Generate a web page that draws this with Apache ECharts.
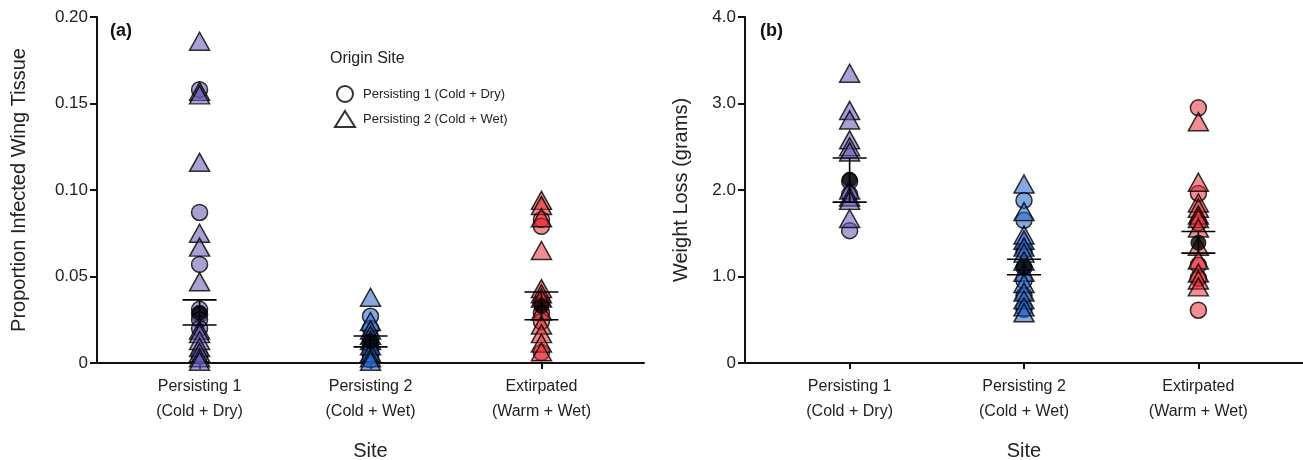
<!DOCTYPE html>
<html>
<head>
<meta charset="utf-8">
<script src="https://cdn.jsdelivr.net/npm/echarts@6/dist/echarts.min.js"></script>
<style>html,body{margin:0;padding:0;background:#fff}#c{width:1303px;height:460px}</style>
</head>
<body>
<div id="c"></div>
<script>
// ---------- data ----------
const categories = ['Persisting 1\n(Cold + Dry)', 'Persisting 2\n(Cold + Wet)', 'Extirpated\n(Warm + Wet)'];
const originNames = ['Persisting 1 (Cold + Dry)', 'Persisting 2 (Cold + Wet)'];
const yTicksA = ['0', '0.05', '0.10', '0.15', '0.20'];
const yTicksB = ['0', '1.0', '2.0', '3.0', '4.0'];

// Panel (a): proportion infected wing tissue
const infP1Circles = [0.158, 0.087, 0.057, 0.031, 0.028, 0.025, 0.020, 0.004];
const infP1Triangles = [0.186, 0.157, 0.155, 0.116, 0.075, 0.067, 0.047, 0.019, 0.017, 0.013, 0.009, 0.006, 0.003, 0.001];
const infP2Circles = [0.027, 0.020, 0.014, 0.011, 0.008, 0.004, 0.002];
const infP2Triangles = [0.038, 0.024, 0.019, 0.016, 0.013, 0.010, 0.006, 0.003, 0.001];
const infExCircles = [0.083, 0.079, 0.035, 0.029, 0.024, 0.006];
const infExTriangles = [0.094, 0.091, 0.084, 0.065, 0.043, 0.040, 0.0375, 0.030, 0.022, 0.017, 0.0115, 0.0065];
const infMeans = [0.029, 0.0125, 0.033];
const infLower = [0.022, 0.0093, 0.025];
const infUpper = [0.0365, 0.0156, 0.041];

// Panel (b): weight loss (grams)
const wlP1Circles = [2.10, 1.95, 1.53];
const wlP1Triangles = [3.35, 2.92, 2.81, 2.58, 2.50, 2.44, 2.00, 1.92, 1.88, 1.67];
const wlP2Circles = [1.88, 1.65, 1.30, 1.10, 0.95, 0.78, 0.62];
const wlP2Triangles = [2.07, 1.75, 1.48, 1.42, 1.34, 1.27, 1.18, 1.05, 0.92, 0.82, 0.73, 0.65, 0.58];
const wlExCircles = [2.95, 1.96, 1.62, 1.13, 0.98, 0.61];
const wlExTriangles = [2.79, 2.09, 1.85, 1.79, 1.71, 1.67, 1.56, 1.35, 1.19, 1.04, 0.96, 0.88];
const wlMeans = [2.12, 1.11, 1.39];
const wlLower = [1.86, 1.02, 1.27];
const wlUpper = [2.37, 1.20, 1.52];

// ---------- styling ----------
const FONT = '"Liberation Sans", Arial, sans-serif';
const siteColors = ['rgba(98,88,178,0.7)', 'rgba(40,100,200,0.7)', 'rgba(228,38,48,0.65)'];

function pts(catIdx, arr) { return arr.map(v => [catIdx + 1, v]); }

function pointSeries(axisIdx, catIdx, arr, shape) {
  return {
    type: 'scatter', xAxisIndex: axisIdx, yAxisIndex: axisIdx,
    name: 'pts' + axisIdx + catIdx + shape,
    symbol: shape,
    symbolSize: shape === 'circle' ? 16 : [20, 18],
    data: pts(catIdx, arr),
    itemStyle: { color: siteColors[catIdx], borderColor: '#000', borderWidth: 1.5 },
    z: 2, silent: true, animation: false
  };
}

function errSeries(axisIdx, lower, upper) {
  return {
    type: 'custom', xAxisIndex: axisIdx, yAxisIndex: axisIdx, z: 4, silent: true, animation: false,
    data: lower.map((lo, i) => [i + 1, lo, upper[i]]),
    renderItem: function (params, api) {
      const x = api.value(0);
      const pLo = api.coord([x, api.value(1)]);
      const pHi = api.coord([x, api.value(2)]);
      const hw = 17;
      const st = { stroke: '#000', lineWidth: 1.6 };
      return { type: 'group', children: [
        { type: 'line', shape: { x1: pLo[0], y1: pLo[1], x2: pHi[0], y2: pHi[1] }, style: st },
        { type: 'line', shape: { x1: pLo[0] - hw, y1: pLo[1], x2: pLo[0] + hw, y2: pLo[1] }, style: st },
        { type: 'line', shape: { x1: pHi[0] - hw, y1: pHi[1], x2: pHi[0] + hw, y2: pHi[1] }, style: st }
      ]};
    }
  };
}

function meanSeries(axisIdx, means) {
  return {
    type: 'scatter', xAxisIndex: axisIdx, yAxisIndex: axisIdx, z: 5, silent: true, animation: false,
    symbol: 'circle', symbolSize: 15,
    data: means.map((m, i) => [i + 1, m]),
    itemStyle: { color: '#000', borderColor: '#000', borderWidth: 1 }
  };
}

function xAxis(gridIdx) {
  return {
    type: 'value', gridIndex: gridIdx, min: 0.4, max: 3.6,
    name: 'Site', nameLocation: 'middle', nameGap: 78,
    nameTextStyle: { fontFamily: FONT, fontSize: 20, color: '#222' },
    splitLine: { show: false },
    axisLine: { show: true, lineStyle: { color: '#111', width: 2 } },
    axisTick: { show: true, customValues: [1, 2, 3], length: 6, lineStyle: { color: '#111', width: 2 } },
    axisLabel: {
      show: true, customValues: [1, 2, 3], margin: 11,
      formatter: v => categories[Math.round(v) - 1],
      fontFamily: FONT, fontSize: 16, color: '#222', lineHeight: 25
    }
  };
}

function yAxis(gridIdx, max, interval, labels, title, gap) {
  return {
    type: 'value', gridIndex: gridIdx, min: 0, max: max, interval: interval,
    name: title, nameLocation: 'middle', nameGap: gap,
    nameTextStyle: { fontFamily: FONT, fontSize: 20, color: '#222' },
    splitLine: { show: false },
    axisLine: { show: true, lineStyle: { color: '#111', width: 2 } },
    axisTick: { show: true, length: 7, lineStyle: { color: '#111', width: 2 } },
    axisLabel: {
      margin: 9, fontFamily: FONT, fontSize: 17, color: '#222',
      formatter: (v) => labels[Math.round(v / interval)]
    }
  };
}

const series = [
  pointSeries(0, 0, infP1Circles, 'circle'),
  pointSeries(0, 0, infP1Triangles, 'triangle'),
  pointSeries(0, 1, infP2Circles, 'circle'),
  pointSeries(0, 1, infP2Triangles, 'triangle'),
  pointSeries(0, 2, infExCircles, 'circle'),
  pointSeries(0, 2, infExTriangles, 'triangle'),
  errSeries(0, infLower, infUpper),
  meanSeries(0, infMeans),
  pointSeries(1, 0, wlP1Circles, 'circle'),
  pointSeries(1, 0, wlP1Triangles, 'triangle'),
  pointSeries(1, 1, wlP2Circles, 'circle'),
  pointSeries(1, 1, wlP2Triangles, 'triangle'),
  pointSeries(1, 2, wlExCircles, 'circle'),
  pointSeries(1, 2, wlExTriangles, 'triangle'),
  errSeries(1, wlLower, wlUpper),
  meanSeries(1, wlMeans),
  // legend-only series (hollow origin symbols)
  { type: 'scatter', name: originNames[0], xAxisIndex: 0, yAxisIndex: 0, data: [], symbol: 'circle',
    itemStyle: { color: '#fff', borderColor: '#000', borderWidth: 1.8 } },
  { type: 'scatter', name: originNames[1], xAxisIndex: 0, yAxisIndex: 0, data: [], symbol: 'triangle',
    itemStyle: { color: '#fff', borderColor: '#000', borderWidth: 1.8 } }
];

const chart = echarts.init(document.getElementById('c'), null, { renderer: 'canvas' });
chart.setOption({
  animation: false,
  backgroundColor: '#fff',
  textStyle: { fontFamily: FONT },
  grid: [
    { left: 97, top: 17, width: 547, height: 346, outerBoundsMode: 'none', containLabel: false },
    { left: 745, top: 17, width: 558, height: 346, outerBoundsMode: 'none', containLabel: false }
  ],
  xAxis: [xAxis(0), xAxis(1)],
  yAxis: [
    yAxis(0, 0.2, 0.05, yTicksA, 'Proportion Infected Wing Tissue', 68),
    yAxis(1, 4, 1, yTicksB, 'Weight Loss (grams)', 54)
  ],
  legend: {
    data: originNames, orient: 'vertical', left: 329, top: 80,
    itemWidth: 20, itemHeight: 16, itemGap: 7,
    selectedMode: false,
    textStyle: { fontFamily: FONT, fontSize: 13, color: '#222', padding: [0, 0, 0, 3] }
  },
  graphic: [
    { type: 'text', left: 110, top: 22, style: { text: '(a)', font: 'bold 18px ' + FONT, fill: '#111' } },
    { type: 'text', left: 760, top: 22, style: { text: '(b)', font: 'bold 18px ' + FONT, fill: '#111' } },
    { type: 'text', left: 330, top: 51, style: { text: 'Origin Site', font: '16px ' + FONT, fill: '#222' } }
  ],
  series: series
});
</script>
</body>
</html>
